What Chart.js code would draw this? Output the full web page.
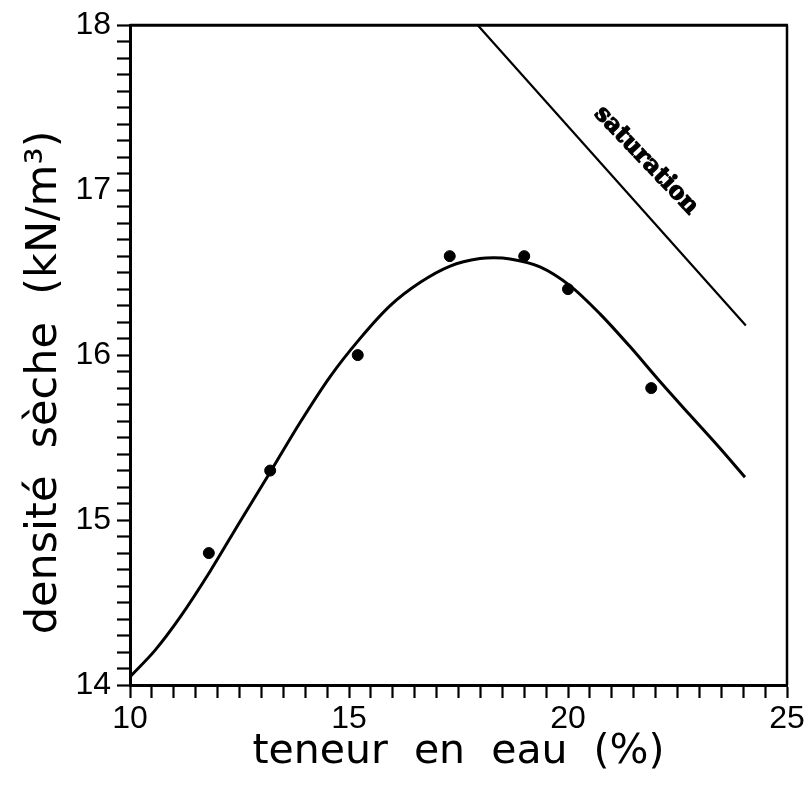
<!DOCTYPE html>
<html>
<head>
<meta charset="utf-8">
<script src="https://cdn.jsdelivr.net/npm/chart.js@4/dist/chart.umd.min.js"></script>
<style>
  html, body { margin: 0; padding: 0; background: #fff; }
  #wrap { width: 810px; height: 799px; }
</style>
</head>
<body>
<div id="wrap"><canvas id="c" width="810" height="799"></canvas></div>
<script>
// Measured points: water content (%) and dry density (kN/m3)
const pointWater   = [11.8, 13.2, 15.2, 17.3, 19.0, 20.0, 21.9];
const pointDensity = [14.8, 15.3, 16.0, 16.6, 16.6, 16.4, 15.8];

// Fitted compaction curve
const curveWater   = [10.00, 10.57, 11.14, 11.83, 12.51, 13.20, 13.88, 14.57, 15.25, 15.94, 16.62, 17.31, 17.99, 18.30, 18.68, 19.36, 20.05, 20.73, 21.42, 22.10, 22.79, 23.47, 24.04];
const curveDensity = [14.05, 14.21, 14.41, 14.69, 14.99, 15.29, 15.59, 15.87, 16.10, 16.30, 16.44, 16.54, 16.585, 16.59, 16.583, 16.535, 16.42, 16.25, 16.05, 15.84, 15.635, 15.435, 15.26];

// Saturation line
const satWater   = [17.94, 24.06];
const satDensity = [18.0, 16.18];

// Axis ranges and labels
const xRange = [10, 25];
const yRange = [14, 18];
const xTitle = 'teneur  en  eau  (%)';
const yTitle = 'densité  sèche  (kN/m³)    ';
const satLabel = 'saturation';
const satLabelAt = [21.78, 17.18];

const toXY = (xs, ys) => xs.map((x, i) => ({ x: x, y: ys[i] }));
const isMult = (v, m) => Math.abs(v / m - Math.round(v / m)) < 1e-6;

const framePlugin = {
  id: 'frame',
  afterDraw(chart) {
    const { ctx, chartArea: a, scales } = chart;
    ctx.save();
    ctx.strokeStyle = '#000';
    ctx.lineWidth = 3;
    ctx.beginPath();
    ctx.moveTo(a.left, a.top);
    ctx.lineTo(a.right + 1, a.top);
    ctx.stroke();
    ctx.lineWidth = 2.5;
    ctx.beginPath();
    ctx.moveTo(a.right, a.top);
    ctx.lineTo(a.right, a.bottom);
    ctx.stroke();
    // saturation label
    const px = scales.x.getPixelForValue(satLabelAt[0]);
    const py = scales.y.getPixelForValue(satLabelAt[1]);
    ctx.translate(px, py);
    ctx.rotate(46.5 * Math.PI / 180);
    ctx.fillStyle = '#000';
    ctx.font = 'bold 24px "DejaVu Serif"';
    ctx.textAlign = 'center';
    ctx.textBaseline = 'middle';
    ctx.lineWidth = 1.2;
    ctx.lineJoin = 'round';
    ctx.strokeText(satLabel, 0, 0);
    ctx.fillText(satLabel, 0, 0);
    ctx.restore();
  }
};

const tickFont = { family: '"Liberation Sans", Arial, sans-serif', size: 32 };
const xTitleFont = { family: '"DejaVu Sans", sans-serif', size: 41, weight: 'normal' };
const yTitleFont = { family: '"DejaVu Sans", sans-serif', size: 43, weight: 'normal' };

new Chart(document.getElementById('c'), {
  type: 'scatter',
  data: {
    datasets: [
      {
        type: 'line',
        data: toXY(curveWater, curveDensity),
        borderColor: '#000',
        borderWidth: 3,
        pointRadius: 0,
        cubicInterpolationMode: 'monotone',
        fill: false
      },
      {
        type: 'line',
        data: toXY(satWater, satDensity),
        borderColor: '#000',
        borderWidth: 2.2,
        pointRadius: 0,
        tension: 0,
        fill: false
      },
      {
        type: 'scatter',
        data: toXY(pointWater, pointDensity),
        backgroundColor: '#000',
        borderColor: '#000',
        pointRadius: 5.5,
        pointStyle: 'circle'
      }
    ]
  },
  options: {
    responsive: false,
    animation: false,
    clip: false,
    layout: { padding: { top: 25, right: 23, left: 0, bottom: 0 } },
    plugins: { legend: { display: false }, tooltip: { enabled: false } },
    scales: {
      x: {
        type: 'linear',
        min: xRange[0], max: xRange[1],
        afterFit: s => { s.height = 114; },
        ticks: {
          stepSize: 0.5,
          autoSkip: false,
          maxRotation: 0,
          color: '#000',
          font: tickFont,
          padding: 2,
          callback: v => isMult(v, 5) ? String(Math.round(v)) : ''
        },
        grid: {
          drawOnChartArea: false,
          drawTicks: true,
          tickLength: 13,
          tickColor: '#000',
          tickWidth: 2.2
        },
        border: { color: '#000', width: 3 },
        title: {
          display: true,
          text: xTitle,
          color: '#000',
          font: xTitleFont,
          padding: { top: 0, bottom: 22 }
        }
      },
      y: {
        type: 'linear',
        min: yRange[0], max: yRange[1],
        afterFit: s => { s.width = 130; },
        ticks: {
          stepSize: 0.1,
          autoSkip: false,
          color: '#000',
          font: tickFont,
          padding: 6,
          callback: v => isMult(v, 1) ? String(Math.round(v)) : ''
        },
        grid: {
          drawOnChartArea: false,
          drawTicks: true,
          tickLength: 13,
          tickColor: '#000',
          tickWidth: 2.2
        },
        border: { color: '#000', width: 3 },
        title: {
          display: true,
          text: yTitle,
          color: '#000',
          font: yTitleFont,
          padding: { top: 19, bottom: 0 }
        }
      }
    }
  },
  plugins: [framePlugin]
});
</script>
</body>
</html>
